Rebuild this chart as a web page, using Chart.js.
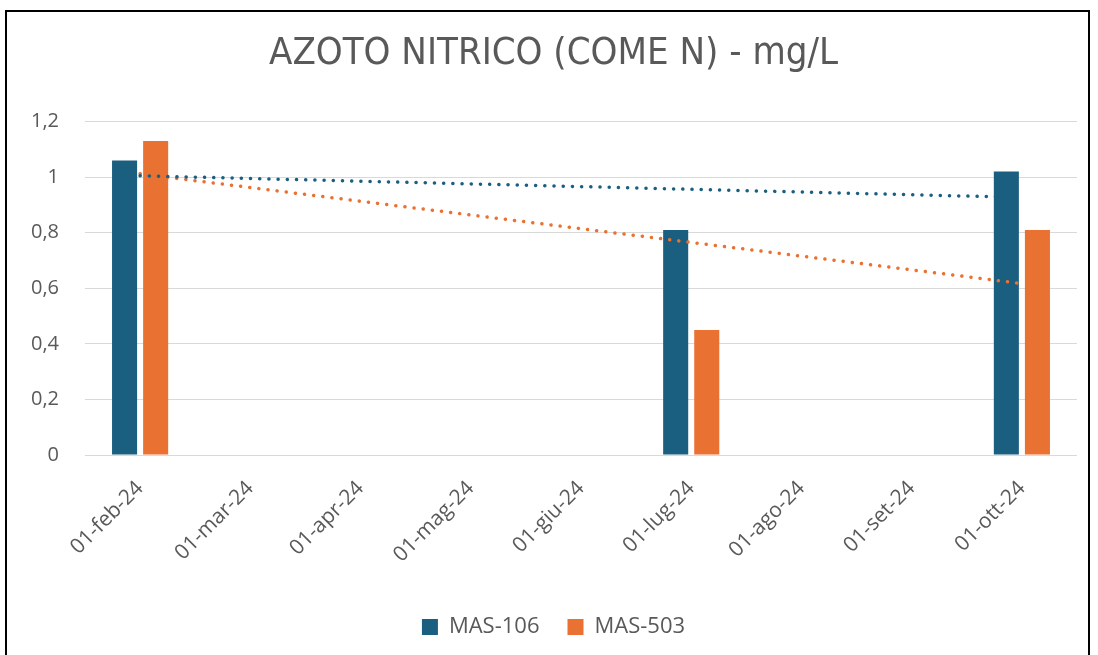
<!DOCTYPE html>
<html>
<head>
<meta charset="utf-8">
<script src="https://cdn.jsdelivr.net/npm/chart.js@4/dist/chart.umd.min.js"></script>
<style>
  html, body { margin: 0; padding: 0; background: #ffffff; }
  body { width: 1098px; height: 655px; overflow: hidden; position: relative; }
  #frame { position: absolute; left: 5px; top: 10px; width: 1085px; height: 700px;
           border: 2px solid #000; box-sizing: border-box; background: #fff; }
  #wrap { position: absolute; left: 23px; top: 2px; width: 1047px; height: 660px; }
</style>
</head>
<body>
<div id="frame"><div id="wrap"><canvas id="c" width="1047" height="660"></canvas></div></div>
<script>
const categories = ['01-feb-24','01-mar-24','01-apr-24','01-mag-24','01-giu-24','01-lug-24','01-ago-24','01-set-24','01-ott-24'];
const mas106 = [1.06, null, null, null, null, 0.81, null, null, 1.02];
const mas503 = [1.13, null, null, null, null, 0.45, null, null, 0.81];
const trend106 = [1.005, null, null, null, null, null, null, null, 0.927];
const trend503 = [1.012, null, null, null, null, null, null, null, 0.617];
const yTicks = [0, 0.2, 0.4, 0.6, 0.8, 1, 1.2];

const BLUE = '#1a5e80';
const ORANGE = '#e97132';
const TXT = '#595959';
const FONT = "'Open Sans', 'Liberation Sans', sans-serif";

new Chart(document.getElementById('c'), {
  data: {
    labels: categories,
    datasets: [
      { type: 'bar', label: 'MAS-106', data: mas106, backgroundColor: BLUE, order: 2,
        categoryPercentage: 0.564, barPercentage: 0.806 },
      { type: 'bar', label: 'MAS-503', data: mas503, backgroundColor: ORANGE, order: 2,
        categoryPercentage: 0.564, barPercentage: 0.806 },
      { type: 'line', label: 'trend106', data: trend106, borderColor: BLUE, borderWidth: 3.5,
        borderDash: [0.1, 9.1], borderCapStyle: 'round', pointRadius: 0, spanGaps: true, order: 1, fill: false },
      { type: 'line', label: 'trend503', data: trend503, borderColor: ORANGE, borderWidth: 3.5,
        borderDash: [0.1, 9.1], borderCapStyle: 'round', pointRadius: 0, spanGaps: true, order: 1, fill: false }
    ]
  },
  options: {
    responsive: false,
    animation: false,
    layout: { padding: { left: 0, right: 0, top: 0, bottom: 26 } },
    plugins: {
      title: { display: true, text: 'AZOTO NITRICO (COME N) - mg/L', color: TXT,
        font: { family: "'DejaVu Sans Condensed', 'Liberation Sans Narrow', sans-serif", size: 38, weight: 'normal' },
        padding: { top: 17, bottom: 45 } },
      legend: { position: 'bottom',
        labels: { color: TXT, font: { family: FONT, size: 22 }, boxWidth: 16, boxHeight: 16, padding: 28,
          filter: (item) => item.text.indexOf('trend') !== 0 } },
      tooltip: { enabled: false }
    },
    scales: {
      x: {
        grid: { display: false, drawTicks: false },
        border: { display: true, color: '#d9d9d9', width: 1 },
        ticks: { color: TXT, font: { family: FONT, size: 21 }, minRotation: 45, maxRotation: 45, padding: 21, autoSkip: false },
        afterFit: (s) => { s.height = 133; }
      },
      y: {
        min: 0, max: 1.2,
        afterBuildTicks: (s) => { s.ticks = yTicks.map(v => ({ value: v })); },
        grid: { color: '#d9d9d9', lineWidth: 1, drawTicks: false },
        border: { display: false },
        ticks: { color: TXT, font: { family: FONT, size: 20 }, padding: 26,
          callback: (v) => String(Math.round(v * 10) / 10).replace('.', ',') },
        afterFit: (s) => { s.width = 55; }
      }
    }
  }
});
</script>
</body>
</html>
